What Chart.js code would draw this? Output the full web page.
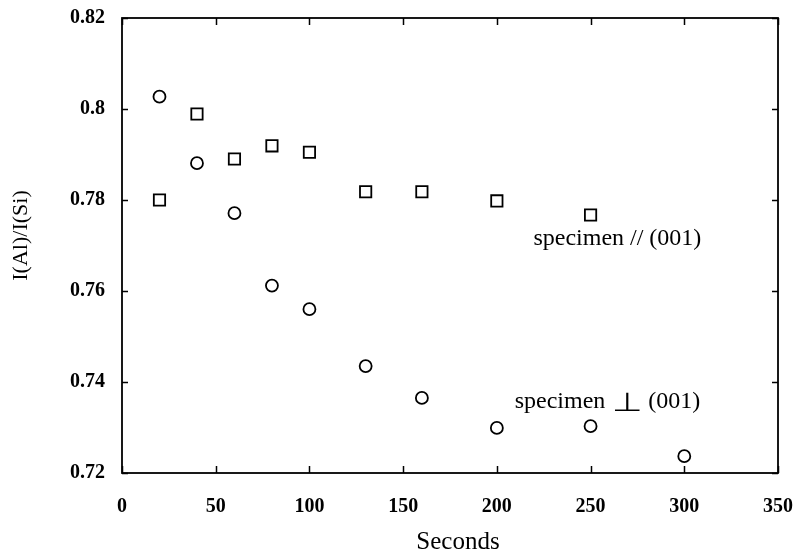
<!DOCTYPE html>
<html>
<head>
<meta charset="utf-8">
<script src="https://cdn.jsdelivr.net/npm/chart.js@4.4.1/dist/chart.umd.min.js"></script>
<style>
  html, body { margin: 0; padding: 0; background: #fff; }
  #wrap { width: 797px; height: 554px; position: relative; }
</style>
</head>
<body>
<div id="wrap"><canvas id="c" width="797" height="554"></canvas></div>
<script>
// Data
const secondsPerp = [20, 40, 60, 80, 100, 130, 160, 200, 250, 300];
const ratioPerp   = [0.8027, 0.7881, 0.7771, 0.7612, 0.7560, 0.7435, 0.7365, 0.7299, 0.7303, 0.7237];
const secondsPar  = [20, 40, 60, 80, 100, 130, 160, 200, 250];
const ratioPar    = [0.7800, 0.7989, 0.7890, 0.7919, 0.7905, 0.7818, 0.7818, 0.7798, 0.7767];
const xTicks = [0, 50, 100, 150, 200, 250, 300, 350];
const yTicks = [0.72, 0.74, 0.76, 0.78, 0.80, 0.82];
const xTitle = 'Seconds';
const yTitle = 'I(Al)/I(Si)';
const labelPar = { x: 219.5, y: 0.7714, text: 'specimen // (001)' };
const labelPerp = { x: 209.5, y: 0.7357, pre: 'specimen', sym: '\u22A5', post: '(001)' };

const SERIF = "'Liberation Serif', 'Times New Roman', serif";

const toPts = (xs, ys) => xs.map((x, i) => ({ x: x, y: ys[i] }));

const framePlugin = {
  id: 'frame',
  afterDatasetsDraw(chart) {
    const { ctx, chartArea: a, scales } = chart;
    const xs = scales.x, ys = scales.y;
    ctx.save();
    ctx.strokeStyle = '#000';
    ctx.lineWidth = 1.8;
    ctx.strokeRect(a.left, a.top, a.right - a.left, a.bottom - a.top);
    ctx.lineWidth = 1.5;
    ctx.beginPath();
    xTicks.forEach(v => {
      const px = Math.round(xs.getPixelForValue(v)) + 0.5;
      ctx.moveTo(px, a.bottom); ctx.lineTo(px, a.bottom - 7);
      ctx.moveTo(px, a.top); ctx.lineTo(px, a.top + 7);
    });
    yTicks.forEach(v => {
      const py = Math.round(ys.getPixelForValue(v)) + 0.5;
      ctx.moveTo(a.left, py); ctx.lineTo(a.left + 6, py);
      ctx.moveTo(a.right, py); ctx.lineTo(a.right - 6, py);
    });
    ctx.stroke();

    ctx.fillStyle = '#000';
    // axis titles
    ctx.textAlign = 'center';
    ctx.textBaseline = 'middle';
    ctx.font = '25px ' + SERIF;
    ctx.fillText(xTitle, (a.left + a.right) / 2 + 8, a.bottom + 69);
    ctx.save();
    ctx.translate(21, (a.top + a.bottom) / 2 - 10);
    ctx.rotate(-Math.PI / 2);
    ctx.font = '22px ' + SERIF;
    ctx.fillText(yTitle, 0, 0);
    ctx.restore();

    // annotations
    ctx.textBaseline = 'middle';
    ctx.textAlign = 'left';
    ctx.font = '24px ' + SERIF;
    ctx.fillText(labelPar.text, xs.getPixelForValue(labelPar.x), ys.getPixelForValue(labelPar.y));

    const lx = xs.getPixelForValue(labelPerp.x), ly = ys.getPixelForValue(labelPerp.y);
    ctx.fillText(labelPerp.pre, lx, ly);
    const w1 = ctx.measureText(labelPerp.pre).width + 7;
    // perpendicular symbol kept as text, stretched horizontally
    ctx.save();
    ctx.font = '26px ' + SERIF;
    const symW = ctx.measureText(labelPerp.sym).width;
    const sx = 31 / symW;
    ctx.translate(lx + w1, ly);
    ctx.scale(sx, 1);
    ctx.textBaseline = 'alphabetic';
    ctx.fillText(labelPerp.sym, 0, 9);
    ctx.restore();
    ctx.font = '24px ' + SERIF;
    ctx.fillText(labelPerp.post, lx + w1 + 31 + 5, ly);
    ctx.restore();
  }
};

const bgPlugin = {
  id: 'bg',
  beforeDraw(chart) {
    const { ctx, width, height } = chart;
    ctx.save(); ctx.fillStyle = '#fff'; ctx.fillRect(0, 0, width, height); ctx.restore();
  }
};

new Chart(document.getElementById('c'), {
  type: 'scatter',
  data: {
    datasets: [
      {
        label: 'specimen \u22A5 (001)',
        data: toPts(secondsPerp, ratioPerp),
        pointStyle: 'circle',
        pointRadius: 6,
        borderColor: '#000',
        backgroundColor: '#fff',
        borderWidth: 1.8
      },
      {
        label: 'specimen // (001)',
        data: toPts(secondsPar, ratioPar),
        pointStyle: 'rect',
        pointRadius: 8,
        borderColor: '#000',
        backgroundColor: '#fff',
        borderWidth: 1.8
      }
    ]
  },
  options: {
    responsive: false,
    animation: false,
    devicePixelRatio: 1,
    layout: { padding: { top: 18, right: 19, left: 0, bottom: 0 } },
    plugins: { legend: { display: false }, tooltip: { enabled: false } },
    scales: {
      x: {
        type: 'linear',
        min: 0, max: 350,
        afterBuildTicks: s => { s.ticks = xTicks.map(v => ({ value: v })); },
        afterFit: s => { s.height = 81; s.paddingLeft = 0; s.paddingRight = 0; },
        grid: { display: false, drawTicks: false },
        border: { display: false },
        ticks: { color: '#000', padding: 22, font: { family: SERIF, size: 20, weight: 'bold' }, maxRotation: 0 },
        title: { display: false }
      },
      y: {
        type: 'linear',
        min: 0.72, max: 0.82,
        afterBuildTicks: s => { s.ticks = yTicks.map(v => ({ value: v })); },
        afterFit: s => { s.width = 122; s.paddingTop = 0; s.paddingBottom = 0; },
        grid: { display: false, drawTicks: false },
        border: { display: false },
        ticks: {
          color: '#000', padding: 17, font: { family: SERIF, size: 20, weight: 'bold' },
          callback: v => String(parseFloat(v.toFixed(2)))
        },
        title: { display: false }
      }
    }
  },
  plugins: [bgPlugin, framePlugin]
});
</script>
</body>
</html>
